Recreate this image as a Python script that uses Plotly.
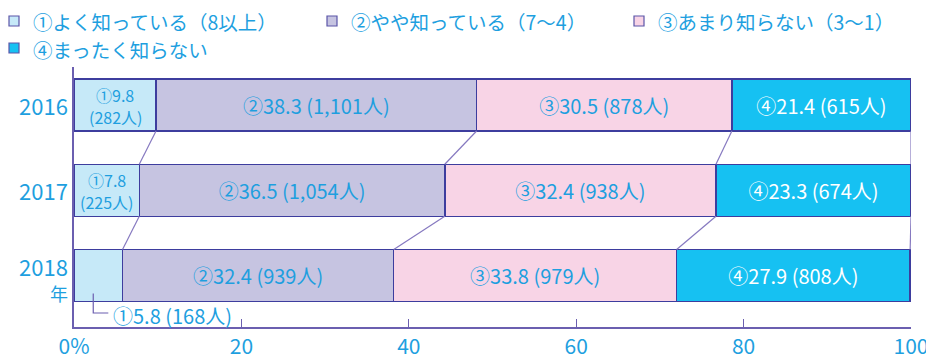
import numpy as np
import plotly.graph_objects as go

# ---- data ----
years = ["2016", "2017", "2018"]
year_suffix = "年"
share_1 = [9.8, 7.8, 5.8]
share_2 = [38.3, 36.5, 32.4]
share_3 = [30.5, 32.4, 33.8]
share_4 = [21.4, 23.3, 27.9]
count_1 = [282, 225, 168]
count_2 = [1101, 1054, 939]
count_3 = [878, 938, 979]
count_4 = [615, 674, 808]
legend_labels = ["①よく知っている（8以上）", "②やや知っている（7〜4）",
                 "③あまり知らない（3〜1）", "④まったく知らない"]
marks = ["①", "②", "③", "④"]
x_ticks = [0, 20, 40, 60, 80, 100]
x_ticktext = ["0%", "20", "40", "60", "80", "100"]

# ---- style ----
COLORS = ["#c6e9f8", "#c6c4e1", "#f8d4e6", "#16c1f2"]
TEXT = "#1e9fdf"
OUTLINE = "#3d3d9e"
CONNECT = "#8679c0"
AXIS = "#6b5fb0"
FONT = "Noto Sans CJK JP"

W, H = 934, 360
PAGE_OFFSET = 8  # body margin of the page shifts the figure
# plot area in screen pixels: x 74..911, y 67..327
L = 74 - PAGE_OFFSET
R = W - (911 - PAGE_OFFSET)
T = 67 - PAGE_OFFSET
B = H - (327 - PAGE_OFFSET)
Y_POS = [2, 1, 0]
BAR_W = 0.61
PX_PER_Y = 260 / 3.05


def px_x(sx):
    # screen x -> paper x
    return (sx - 74) / 837


def px_y(sy):
    # screen y -> paper y
    return (327 - sy) / 260


shares = [share_1, share_2, share_3, share_4]
counts = [count_1, count_2, count_3, count_4]

fig = go.Figure()

for k in range(4):
    texts = []
    for i in range(3):
        v, n = shares[k][i], counts[k][i]
        texts.append("" if k == 0 else f"{marks[k]}{v} ({n:,}人)")
    fig.add_trace(go.Bar(
        x=shares[k], y=Y_POS, orientation="h", width=BAR_W,
        marker=dict(color=COLORS[k], line=dict(color=OUTLINE, width=1.5)),
        text=texts, textposition="inside", insidetextanchor="middle",
        textangle=0, constraintext="none",
        textfont=dict(family=FONT, size=20,
                      color="white" if k == 3 else TEXT),
        showlegend=False, hoverinfo="skip",
    ))

# first segment labels for 2016 and 2017: two lines inside the narrow bar
for i in range(2):
    fig.add_annotation(x=share_1[i] / 2, y=Y_POS[i] + 10 / PX_PER_Y,
                       text=f"{marks[0]}{share_1[i]}", showarrow=False,
                       font=dict(family=FONT, size=16, color=TEXT))
    fig.add_annotation(x=share_1[i] / 2, y=Y_POS[i] - 12 / PX_PER_Y,
                       text=f"({count_1[i]}人)", showarrow=False,
                       font=dict(family=FONT, size=16, color=TEXT))

# connector lines between bars
cum = np.cumsum(np.array(shares), axis=0)  # rows: boundaries, cols: years
cx, cy = [], []
for i in range(2):
    for b in range(4):
        cx += [cum[b][i], cum[b][i + 1], None]
        cy += [Y_POS[i] - BAR_W / 2, Y_POS[i + 1] + BAR_W / 2, None]
fig.add_trace(go.Scatter(x=cx, y=cy, mode="lines",
                         line=dict(color=CONNECT, width=1.2),
                         showlegend=False, hoverinfo="skip"))

# outside label for 2018 first segment with leader line
fig.add_trace(go.Scatter(x=[2.3, 2.3, 4.1], y=[-0.21, -0.44, -0.44], mode="lines",
                         line=dict(color=AXIS, width=1.2),
                         showlegend=False, hoverinfo="skip"))
fig.add_annotation(x=4.4, y=-0.47, xanchor="left", yanchor="middle",
                   text=f"{marks[0]}{share_1[2]} ({count_1[2]}人)", showarrow=False,
                   font=dict(family=FONT, size=20, color=TEXT))

# year labels (2018 carries the 年 unit on a second line)
year_offsets = [0, 0, 10]
for i, yr in enumerate(years):
    fig.add_annotation(xref="paper", x=px_x(70), y=Y_POS[i] + year_offsets[i] / PX_PER_Y,
                       xanchor="right", yanchor="middle", text=yr, showarrow=False,
                       font=dict(family=FONT, size=22, color=TEXT))
fig.add_annotation(xref="paper", x=px_x(70), y=Y_POS[2] - 17 / PX_PER_Y,
                   xanchor="right", yanchor="middle", text=year_suffix, showarrow=False,
                   font=dict(family=FONT, size=18, color=TEXT))

# manual legend
legend_pos = [(9, 22), (327, 22), (634, 22), (9, 49)]
for k, (sx, sy) in enumerate(legend_pos):
    fig.add_shape(type="rect", xref="paper", yref="paper",
                  x0=px_x(sx), x1=px_x(sx + 10), y0=px_y(sy + 4), y1=px_y(sy - 6),
                  fillcolor=COLORS[k], line=dict(color="#5b55a8", width=1.2))
    fig.add_annotation(xref="paper", yref="paper", x=px_x(sx + 22), y=px_y(sy),
                       xanchor="left", yanchor="middle", showarrow=False,
                       text=legend_labels[k],
                       font=dict(family=FONT, size=19.5, color=TEXT))

fig.update_layout(
    barmode="stack", width=W, height=H,
    margin=dict(l=L, r=R, t=T, b=B, pad=0, autoexpand=False),
    plot_bgcolor="white", paper_bgcolor="white",
    font=dict(family=FONT, color=TEXT),
    showlegend=False,
)
fig.update_xaxes(range=[0, 100], tickvals=x_ticks, ticktext=x_ticktext,
                 ticks="inside", ticklen=8, tickcolor=AXIS, tickwidth=1.2,
                 ticklabelstandoff=0, automargin=False,
                 showline=True, linecolor=AXIS, linewidth=1.5,
                 showgrid=False, zeroline=False,
                 tickfont=dict(family=FONT, size=21, color=TEXT))
fig.update_yaxes(range=[-0.604, 2.446], showticklabels=False, automargin=False,
                 showline=True, linecolor=AXIS, linewidth=1.5,
                 showgrid=False, zeroline=False, ticks="")

fig.write_html("out.html")
